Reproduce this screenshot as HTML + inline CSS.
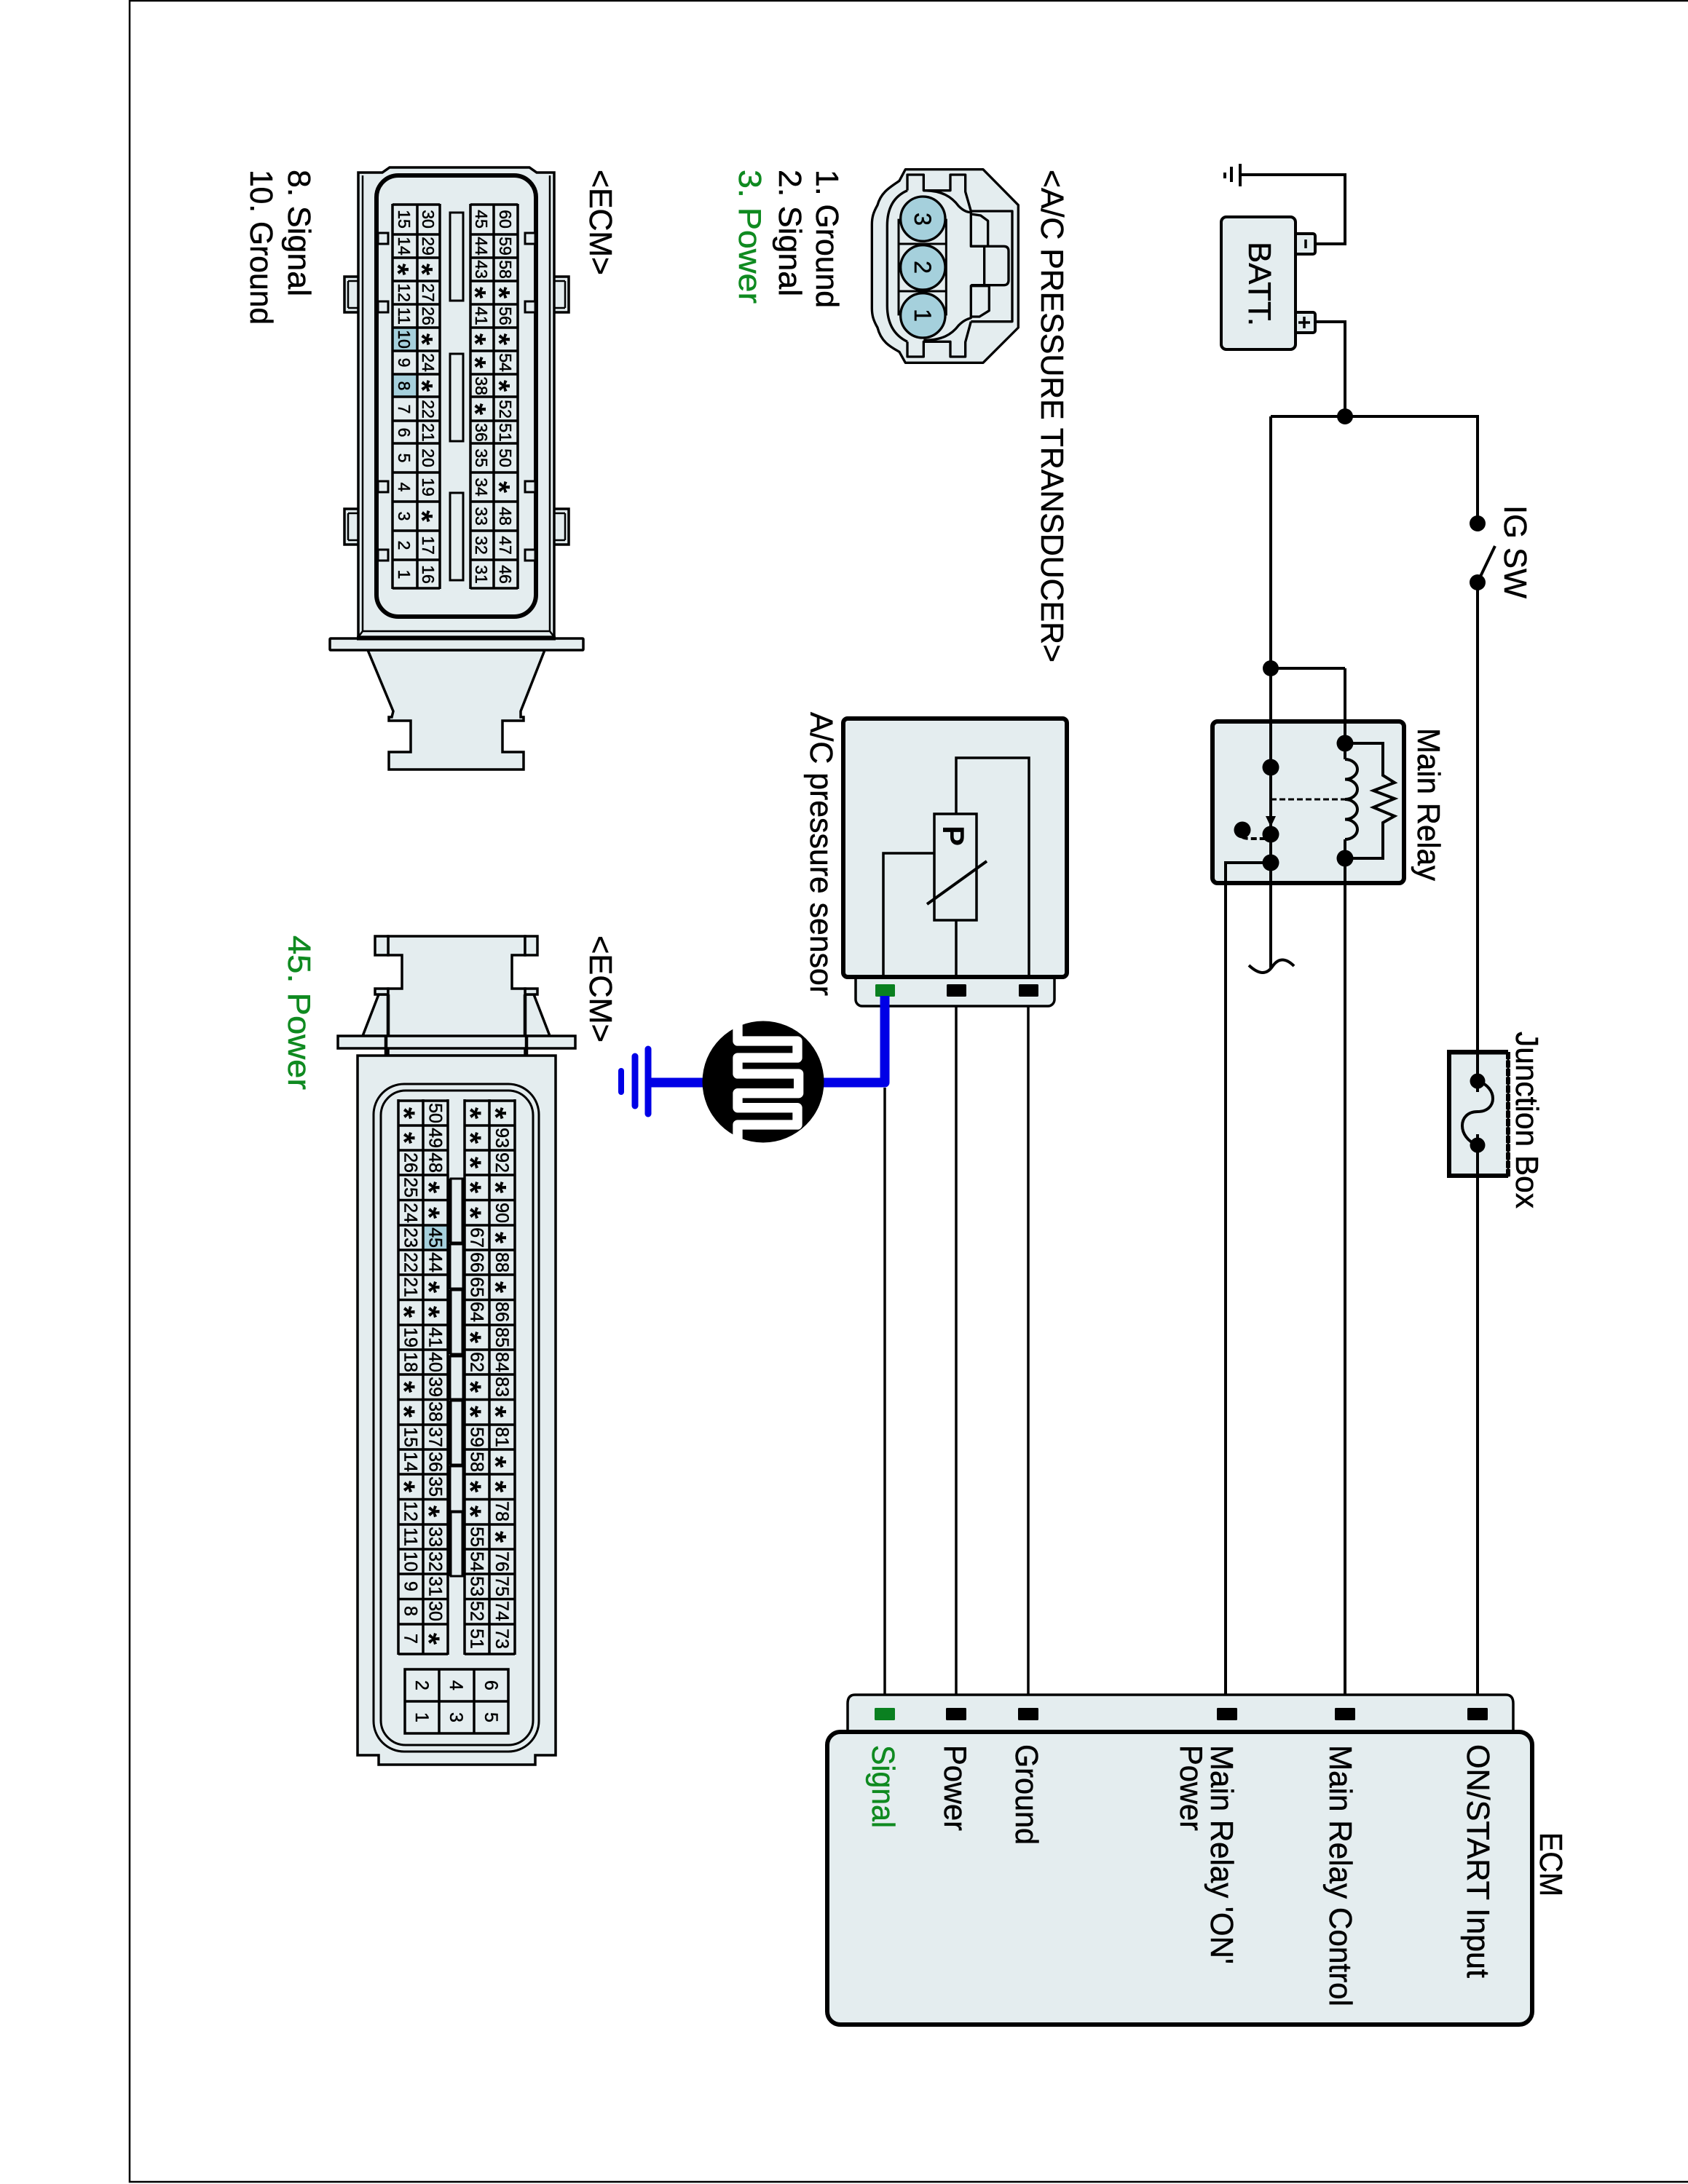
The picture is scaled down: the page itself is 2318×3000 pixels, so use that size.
<!DOCTYPE html>
<html><head><meta charset="utf-8"><style>
html,body{margin:0;padding:0;background:#fff}
svg{display:block}
text{font-family:"Liberation Sans",sans-serif;fill:#000}
.l{font-size:44px;stroke:#000;stroke-width:.5}
.l.g{fill:#0f8a20;stroke:#0f8a20}
.a text{font-size:23px;text-anchor:middle;stroke:#000;stroke-width:.5}
.b text{font-size:25px;text-anchor:middle;stroke:#000;stroke-width:.5}
.a text.s,.b text.s{font-size:42px;font-weight:bold;text-anchor:middle;stroke:none}
.d{text-anchor:middle;stroke:#000;stroke-width:.5}
</style></head><body>
<svg xmlns="http://www.w3.org/2000/svg" width="2318" height="3000" viewBox="0 0 2318 3000">
<rect width="2318" height="3000" fill="#fff"/>
<path d="M178 0V2997H2318M178 1H2318" fill="none" stroke="#000" stroke-width="2.5"/>

<!-- wires -->
<g fill="none" stroke="#000" stroke-width="4">
<path d="M1703 240H1847V335H1806"/>
<path d="M1806 442H1847V572"/>
<path d="M1847 918V2346"/>
<path d="M1745 572H2029V719M2029 800V2346"/>
<path d="M1745 572V1330"/>
<path d="M1745 918H1847"/>
<path d="M1745 1185H1683V2346"/>
<path d="M1313 1368V2346M1412 1368V2346M1215 1494V2346" stroke-width="3.5"/>
<path d="M2029 800L2053 750"/>
<path d="M1715 1326C1730 1340 1740 1338 1747 1328C1755 1316 1765 1315 1777 1327"/>
</g>
<g fill="#000"><circle cx="1847" cy="572" r="11"/><circle cx="1745" cy="918" r="11"/><circle cx="2029" cy="719" r="11"/><circle cx="2029" cy="800" r="11"/></g>

<!-- ground top -->
<path d="M1703 225V256M1691 229V250M1682 237V245" stroke="#000" stroke-width="4" fill="none"/>

<!-- battery -->
<g fill="#e4edef" stroke="#000" stroke-width="4">
<rect x="1778" y="321" width="28" height="28" rx="3"/>
<rect x="1778" y="429" width="28" height="28" rx="3"/>
<rect x="1677" y="298" width="102" height="182" rx="7"/>
</g>
<path d="M1793 329V341M1783 443H1799M1791 435V451" stroke="#000" stroke-width="3.5" fill="none"/>
<text class="l" transform="translate(1715,332) rotate(90)" textLength="116" lengthAdjust="spacingAndGlyphs">BATT.</text>

<!-- relay -->
<rect x="1665" y="991" width="263" height="222" rx="7" fill="#e4edef" stroke="#000" stroke-width="6"/>
<g fill="none" stroke="#000" stroke-width="4">
<path d="M1745 991V1213M1847 991V1043M1847 1153V1213M1683 1213V1185H1745"/>
<path d="M1847 1021H1899V1065L1915 1075L1886 1086L1915 1097L1886 1109L1915 1121L1899 1130V1179H1847"/>
<path d="M1847 1043A17 13.75 0 0 1 1847 1070.5A17 13.75 0 0 1 1847 1098A17 13.75 0 0 1 1847 1125.5A17 13.75 0 0 1 1847 1153"/>
<path d="M1745 1098H1847" stroke-dasharray="8 4" stroke-width="3"/>
<path d="M1706 1150Q1710 1152 1717 1152H1740" stroke-dasharray="8 4"/>
</g>
<g fill="#000">
<circle cx="1847" cy="1021" r="11.5"/><circle cx="1847" cy="1179" r="11.5"/>
<circle cx="1745" cy="1054" r="11.5"/><circle cx="1745" cy="1146" r="11.5"/><circle cx="1745" cy="1185" r="11.5"/>
<circle cx="1706" cy="1140" r="11.5"/>
<path d="M1738 1121H1752L1745 1136Z"/>
</g>
<text class="l" transform="translate(1947,1000) rotate(90)" textLength="210" lengthAdjust="spacingAndGlyphs">Main Relay</text>

<!-- IG SW -->
<text class="l" transform="translate(2066,694) rotate(90)" textLength="128" lengthAdjust="spacingAndGlyphs">IG SW</text>

<!-- junction box -->
<rect x="1990" y="1447" width="81" height="168" fill="#e4edef" stroke="#000" stroke-width="3"/>
<path d="M2071 1445H1990V1615H2071" fill="none" stroke="#000" stroke-width="6"/>
<path d="M2071 1445V1617" fill="none" stroke="#000" stroke-width="6" stroke-dasharray="10 1.5"/>
<path d="M2029 1445V1617" stroke="#000" stroke-width="4"/>
<rect x="2020" y="1500" width="18" height="58" fill="#e4edef"/>
<path d="M2029 1485C2057 1493 2057 1527 2029 1527C2001 1527 2001 1563 2029 1573" fill="none" stroke="#000" stroke-width="4"/>
<circle cx="2029" cy="1485" r="10.5"/><circle cx="2029" cy="1573" r="10.5"/>
<text class="l" transform="translate(2082,1417) rotate(90)" textLength="243" lengthAdjust="spacingAndGlyphs">Junction Box</text>

<!-- sensor -->
<rect x="1175" y="1325" width="273" height="57" rx="9" fill="#e4edef" stroke="#000" stroke-width="3.5"/>
<rect x="1158" y="987" width="307" height="355" rx="6" fill="#e4edef" stroke="#000" stroke-width="6"/>
<g fill="none" stroke="#000" stroke-width="3.5">
<rect x="1283" y="1118" width="58" height="146"/>
<path d="M1313 1118V1041H1413V1342M1313 1264V1342M1283 1172H1213V1342"/>
<path d="M1273 1242L1355 1183" stroke-width="4"/>
</g>
<text transform="translate(1295,1134) rotate(90)" style="font-size:42px;font-weight:bold">P</text>
<rect x="1202" y="1352" width="27" height="17" rx="1.5" fill="#0a8020"/>
<rect x="1300" y="1352" width="27" height="17" rx="1.5"/>
<rect x="1399" y="1352" width="27" height="17" rx="1.5"/>
<text class="l" transform="translate(1113,978) rotate(90)" textLength="390" lengthAdjust="spacingAndGlyphs">A/C pressure sensor</text>

<!-- blue shield -->
<path d="M1215 1368V1487H890" fill="none" stroke="#0000e6" stroke-width="13" stroke-linejoin="round"/>
<g stroke="#0000e6" stroke-linecap="round" fill="none">
<path d="M890 1441V1530" stroke-width="9"/>
<path d="M872 1451V1519" stroke-width="9"/>
<path d="M853 1471V1500" stroke-width="8"/>
</g>
<circle cx="1048" cy="1486" r="83.5" fill="#000"/>
<g transform="translate(820,1340) scale(.33333)">
<path d="M579 190V270H825V339H579V405H830V485H579V545H825V615H579V690" fill="none" stroke="#fff" stroke-width="40" stroke-linejoin="round"/>
</g>

<!-- ECM -->
<path d="M1164 2380V2340Q1164 2328 1174 2328H2068Q2078 2328 2078 2340V2380Z" fill="#e4edef" stroke="#000" stroke-width="3.5"/>
<rect x="1136" y="2379" width="968" height="402" rx="18" fill="#e4edef" stroke="#000" stroke-width="6"/>
<rect x="1201" y="2346" width="28" height="17" rx="1.5" fill="#0a8020"/>
<rect x="1299" y="2346" width="28" height="17" rx="1.5"/>
<rect x="1398" y="2346" width="28" height="17" rx="1.5"/>
<rect x="1671" y="2346" width="28" height="17" rx="1.5"/>
<rect x="1833" y="2346" width="28" height="17" rx="1.5"/>
<rect x="2015" y="2346" width="28" height="17" rx="1.5"/>
<text class="l g" transform="translate(1198,2397) rotate(90)" textLength="114" lengthAdjust="spacingAndGlyphs">Signal</text>
<text class="l" transform="translate(1297,2397) rotate(90)" textLength="118" lengthAdjust="spacingAndGlyphs">Power</text>
<text class="l" transform="translate(1395,2396) rotate(90)" textLength="138" lengthAdjust="spacingAndGlyphs">Ground</text>
<text class="l" transform="translate(1621,2397) rotate(90)" textLength="118" lengthAdjust="spacingAndGlyphs">Power</text>
<text class="l" transform="translate(1663,2397) rotate(90)" textLength="301" lengthAdjust="spacingAndGlyphs">Main Relay 'ON'</text>
<text class="l" transform="translate(1826,2397) rotate(90)" textLength="359" lengthAdjust="spacingAndGlyphs">Main Relay Control</text>
<text class="l" transform="translate(2015,2396) rotate(90)" textLength="321" lengthAdjust="spacingAndGlyphs">ON/START Input</text>
<text class="l" transform="translate(2115,2517) rotate(90)" textLength="88" lengthAdjust="spacingAndGlyphs">ECM</text>

<!-- section labels -->
<text class="l" transform="translate(1430,233) rotate(90)" textLength="677" lengthAdjust="spacingAndGlyphs">&lt;A/C PRESSURE TRANSDUCER&gt;</text>
<text class="l" transform="translate(1121,233) rotate(90)" textLength="190" lengthAdjust="spacingAndGlyphs">1. Ground</text>
<text class="l" transform="translate(1070,233) rotate(90)" textLength="174" lengthAdjust="spacingAndGlyphs">2. Signal</text>
<text class="l g" transform="translate(1015,233) rotate(90)" textLength="184" lengthAdjust="spacingAndGlyphs">3. Power</text>
<text class="l" transform="translate(810,233) rotate(90)" textLength="145" lengthAdjust="spacingAndGlyphs">&lt;ECM&gt;</text>
<text class="l" transform="translate(396,233) rotate(90)" textLength="174" lengthAdjust="spacingAndGlyphs">8. Signal</text>
<text class="l" transform="translate(344,233) rotate(90)" textLength="213" lengthAdjust="spacingAndGlyphs">10. Ground</text>
<text class="l" transform="translate(810,1285) rotate(90)" textLength="147" lengthAdjust="spacingAndGlyphs">&lt;ECM&gt;</text>
<text class="l g" transform="translate(396,1285) rotate(90)" textLength="212" lengthAdjust="spacingAndGlyphs">45. Power</text>

<!-- 3-pin connector -->
<g transform="translate(1160,220) scale(.33333)" fill="#e4edef" stroke="#000" stroke-width="10" stroke-linejoin="round">
<path d="M250 38H570L715 185V690L570 835H250L225 790C190 770 150 750 135 690C118 660 112 640 112 610V265C112 235 118 215 135 185C150 130 190 110 225 85Z"/>
<path d="M520 210H690V665H520" fill="none"/>
<path d="M258 125V60H325V125H435V60H497V130L520 210" fill="none"/>
<path d="M258 748V810H325V748H435V810H497V750L520 665" fill="none"/>
<path d="M325 125C400 125 440 150 470 190C490 210 505 215 520 215V355H590V250L560 228L520 222" fill="none"/>
<path d="M325 742C400 742 440 720 470 680C490 660 505 655 520 650V518H595V620L555 645H520" fill="none"/>
<path d="M258 125C200 150 175 200 175 270V600C175 670 200 720 258 748" fill="none"/>
<path d="M520 355H655Q675 355 675 375V495Q675 515 655 515H520M575 355V515" fill="none"/>
<path d="M222 242V640M418 242V640M222 345H418M222 540H418" fill="none" stroke-width="9"/>
<circle cx="322" cy="242" r="92" fill="#a5d0dc"/>
<circle cx="322" cy="442" r="92" fill="#a5d0dc"/>
<circle cx="322" cy="640" r="92" fill="#a5d0dc"/>
</g>
<text class="d" transform="translate(1256,301) rotate(90)" style="font-size:32px">3</text>
<text class="d" transform="translate(1256,367) rotate(90)" style="font-size:32px">2</text>
<text class="d" transform="translate(1256,433) rotate(90)" style="font-size:32px">1</text>

<!-- ECM connector 1 (60 pin) -->
<g fill="#e4edef" stroke="#000" stroke-width="3.5">
<path d="M540 977L538 985H534V990H564V1033H534V1057H719V1033H690V990H719V985H715V977L748 893H505Z"/>
<rect x="453" y="877" width="348" height="16" rx="1"/>
<rect x="473" y="380" width="22" height="49"/><rect x="473" y="699" width="22" height="49"/>
<rect x="758" y="380" width="23" height="49"/><rect x="758" y="699" width="23" height="49"/>
<path d="M492 875V237H525L535 230H727L737 237H761V875Z"/>
<path d="M498 867V241M755 867V241M498 867H755M498 867L492 875M755 867L761 875" fill="none" stroke-width="2.5"/>
<path d="M478 386H492M478 423H492M478 386V423M776 386H761M776 423H761M776 386V423M478 705H492M478 742H492M478 705V742M776 705H761M776 742H761M776 705V742" fill="none" stroke-width="2.5"/>
</g>
<path d="M490 876.5H763" stroke="#000" stroke-width="6"/>
<rect x="517" y="241" width="219" height="606" rx="30" fill="#e4edef" stroke="#000" stroke-width="6"/>
<g fill="#e4edef" stroke="#000" stroke-width="3">
<rect x="519" y="320" width="14" height="15"/><rect x="519" y="414" width="14" height="15"/><rect x="519" y="661" width="14" height="15"/><rect x="519" y="755" width="14" height="15"/>
<rect x="721" y="320" width="14" height="15"/><rect x="721" y="414" width="14" height="15"/><rect x="721" y="661" width="14" height="15"/><rect x="721" y="755" width="14" height="15"/>
<rect x="618" y="292" width="18" height="121"/><rect x="618" y="486" width="18" height="120"/><rect x="618" y="677" width="18" height="120"/>
</g>
<rect x="540" y="450" width="33" height="32" fill="#a5d0dc"/>
<rect x="540" y="514" width="33" height="31" fill="#a5d0dc"/>
<path d="M539 280V809M573 280V809M604 280V809M646 280V809M678 280V809M711 280V809M539 281H604M539 322H604M539 354H604M539 386H604M539 418H604M539 450H604M539 482H604M539 514H604M539 545H604M539 578H604M539 609H604M539 649H604M539 689H604M539 729H604M539 769H604M539 808H604M646 281H711M646 322H711M646 354H711M646 386H711M646 418H711M646 450H711M646 482H711M646 514H711M646 545H711M646 578H711M646 609H711M646 649H711M646 689H711M646 729H711M646 769H711M646 808H711" stroke="#000" stroke-width="3.5" fill="none"/>
<g class="a">
<g transform="translate(547,0) rotate(90)"><text x="301">15</text><text x="338">14</text><text class="s" x="370" y="15">*</text><text x="402">12</text><text x="434">11</text><text x="466">10</text><text x="498">9</text><text x="530">8</text><text x="562">7</text><text x="594">6</text><text x="629">5</text><text x="669">4</text><text x="709">3</text><text x="749">2</text><text x="789">1</text></g>
<g transform="translate(580,0) rotate(90)"><text x="301">30</text><text x="338">29</text><text class="s" x="370" y="15">*</text><text x="402">27</text><text x="434">26</text><text class="s" x="466" y="15">*</text><text x="498">24</text><text class="s" x="530" y="15">*</text><text x="562">22</text><text x="594">21</text><text x="629">20</text><text x="669">19</text><text class="s" x="709" y="15">*</text><text x="749">17</text><text x="789">16</text></g>
<g transform="translate(653,0) rotate(90)"><text x="301">45</text><text x="338">44</text><text x="370">43</text><text class="s" x="402" y="15">*</text><text x="434">41</text><text class="s" x="466" y="15">*</text><text class="s" x="498" y="15">*</text><text x="530">38</text><text class="s" x="562" y="15">*</text><text x="594">36</text><text x="629">35</text><text x="669">34</text><text x="709">33</text><text x="749">32</text><text x="789">31</text></g>
<g transform="translate(686,0) rotate(90)"><text x="301">60</text><text x="338">59</text><text x="370">58</text><text class="s" x="402" y="15">*</text><text x="434">56</text><text class="s" x="466" y="15">*</text><text x="498">54</text><text class="s" x="530" y="15">*</text><text x="562">52</text><text x="594">51</text><text x="629">50</text><text class="s" x="669" y="15">*</text><text x="709">48</text><text x="749">47</text><text x="789">46</text></g>
</g>

<!-- ECM connector 2 (93 pin) -->
<g fill="#e4edef" stroke="#000" stroke-width="3.5">
<path d="M498 1423L520 1366H533V1423Z"/>
<path d="M755 1423L733 1366H721V1423Z"/>
<rect x="515" y="1358" width="18" height="8"/><rect x="721" y="1358" width="17" height="8"/>
<path d="M533 1450V1358H552V1312H533V1286H721V1312H703V1358H721V1450Z"/>
<rect x="515" y="1286" width="18" height="26"/><rect x="721" y="1286" width="17" height="26"/>
<rect x="464" y="1423" width="326" height="17"/>
<path d="M530 1423V1450M723 1423V1450M533 1366V1423M721 1366V1423" fill="none" stroke-width="4.5"/>
<path d="M491 1450H763V2411H735V2424H520V2411H491Z"/>
</g>
<rect x="513" y="1489" width="227" height="917" rx="42" fill="none" stroke="#000" stroke-width="3"/>
<rect x="523" y="1498" width="209" height="899" rx="34" fill="none" stroke="#000" stroke-width="3"/>
<g fill="#e4edef" stroke="#000" stroke-width="3">
<rect x="618" y="1709" width="18" height="61"/><rect x="618" y="1863" width="18" height="59"/><rect x="618" y="2014" width="18" height="62"/>
</g>
<g fill="#e4edef" stroke="#000" stroke-width="3">
<rect x="619" y="1619" width="16" height="88"/><rect x="619" y="1772" width="16" height="88"/><rect x="619" y="1924" width="16" height="88"/><rect x="619" y="2077" width="16" height="88"/>
</g>
<g fill="#000">
<rect x="615" y="1619" width="5" height="88"/><rect x="634" y="1619" width="5" height="88"/>
<rect x="615" y="1772" width="5" height="88"/><rect x="634" y="1772" width="5" height="88"/>
<rect x="615" y="1924" width="5" height="88"/><rect x="634" y="1924" width="5" height="88"/>
<rect x="615" y="2077" width="5" height="88"/><rect x="634" y="2077" width="5" height="88"/>
</g>
<rect x="582" y="1683" width="33" height="34" fill="#a5d0dc"/>
<path d="M547 1510V2273M581 1510V2273M615 1510V2273M638 1510V2273M672 1510V2273M707 1510V2273M547 1512H615M547 1546H615M547 1580H615M547 1614H615M547 1648.500H615M547 1683H615M547 1717H615M547 1751H615M547 1785.500H615M547 1820H615M547 1854H615M547 1888H615M547 1922.500H615M547 1957H615M547 1991H615M547 2025H615M547 2059.500H615M547 2094H615M547 2128H615M547 2162H615M547 2196.500H615M547 2231H615M547 2272H615M638 1512H707M638 1546H707M638 1580H707M638 1614H707M638 1648.500H707M638 1683H707M638 1717H707M638 1751H707M638 1785.500H707M638 1820H707M638 1854H707M638 1888H707M638 1922.500H707M638 1957H707M638 1991H707M638 2025H707M638 2059.500H707M638 2094H707M638 2128H707M638 2162H707M638 2196.500H707M638 2231H707M638 2272H707" stroke="#000" stroke-width="3.5" fill="none"/>
<g class="b">
<g transform="translate(555.500,0) rotate(90)"><text class="s" x="1529" y="15">*</text><text class="s" x="1563" y="15">*</text><text x="1597">26</text><text x="1631">25</text><text x="1666">24</text><text x="1700">23</text><text x="1734">22</text><text x="1768">21</text><text class="s" x="1802" y="15">*</text><text x="1837">19</text><text x="1871">18</text><text class="s" x="1905" y="15">*</text><text class="s" x="1939" y="15">*</text><text x="1974">15</text><text x="2008">14</text><text class="s" x="2042" y="15">*</text><text x="2076">12</text><text x="2111">11</text><text x="2145">10</text><text x="2179">9</text><text x="2213">8</text><text x="2251">7</text></g>
<g transform="translate(589.500,0) rotate(90)"><text x="1529">50</text><text x="1563">49</text><text x="1597">48</text><text class="s" x="1631" y="15">*</text><text class="s" x="1666" y="15">*</text><text x="1700">45</text><text x="1734">44</text><text class="s" x="1768" y="15">*</text><text class="s" x="1802" y="15">*</text><text x="1837">41</text><text x="1871">40</text><text x="1905">39</text><text x="1939">38</text><text x="1974">37</text><text x="2008">36</text><text x="2042">35</text><text class="s" x="2076" y="15">*</text><text x="2111">33</text><text x="2145">32</text><text x="2179">31</text><text x="2213">30</text><text class="s" x="2251" y="15">*</text></g>
<g transform="translate(646.500,0) rotate(90)"><text class="s" x="1529" y="15">*</text><text class="s" x="1563" y="15">*</text><text class="s" x="1597" y="15">*</text><text class="s" x="1631" y="15">*</text><text class="s" x="1666" y="15">*</text><text x="1700">67</text><text x="1734">66</text><text x="1768">65</text><text x="1802">64</text><text class="s" x="1837" y="15">*</text><text x="1871">62</text><text class="s" x="1905" y="15">*</text><text class="s" x="1939" y="15">*</text><text x="1974">59</text><text x="2008">58</text><text class="s" x="2042" y="15">*</text><text class="s" x="2076" y="15">*</text><text x="2111">55</text><text x="2145">54</text><text x="2179">53</text><text x="2213">52</text><text x="2251">51</text></g>
<g transform="translate(681,0) rotate(90)"><text class="s" x="1529" y="15">*</text><text x="1563">93</text><text x="1597">92</text><text class="s" x="1631" y="15">*</text><text x="1666">90</text><text class="s" x="1700" y="15">*</text><text x="1734">88</text><text class="s" x="1768" y="15">*</text><text x="1802">86</text><text x="1837">85</text><text x="1871">84</text><text x="1905">83</text><text class="s" x="1939" y="15">*</text><text x="1974">81</text><text class="s" x="2008" y="15">*</text><text class="s" x="2042" y="15">*</text><text x="2076">78</text><text class="s" x="2111" y="15">*</text><text x="2145">76</text><text x="2179">75</text><text x="2213">74</text><text x="2251">73</text></g>
</g>
<path d="M556 2293H698V2381H556ZM603 2293V2381M651 2293V2381M556 2337H698" fill="none" stroke="#000" stroke-width="3.500"/>
<text class="d" transform="translate(571,2315) rotate(90)" style="font-size:25px">2</text>
<text class="d" transform="translate(571,2359) rotate(90)" style="font-size:25px">1</text>
<text class="d" transform="translate(618,2315) rotate(90)" style="font-size:25px">4</text>
<text class="d" transform="translate(618,2359) rotate(90)" style="font-size:25px">3</text>
<text class="d" transform="translate(666,2315) rotate(90)" style="font-size:25px">6</text>
<text class="d" transform="translate(666,2359) rotate(90)" style="font-size:25px">5</text>
</svg>
</body></html>
